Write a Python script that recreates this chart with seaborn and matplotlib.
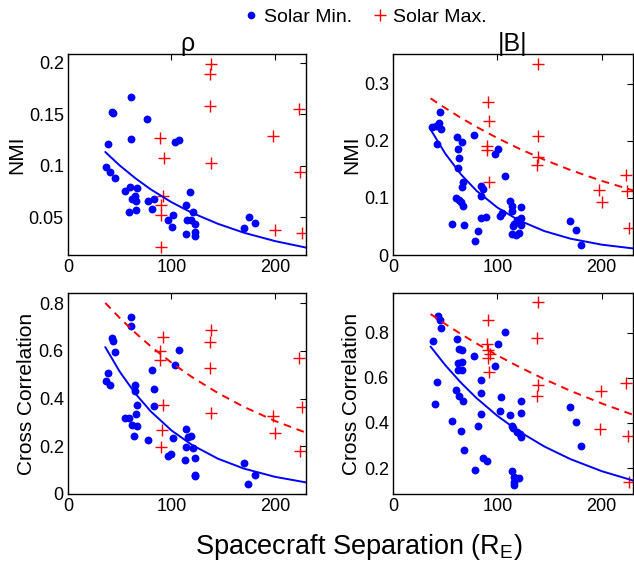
import numpy as np
import matplotlib
matplotlib.use("Agg")
import matplotlib.pyplot as plt
from matplotlib.ticker import FormatStrFormatter
from matplotlib.lines import Line2D
import seaborn as sns

# valori letti dal grafico di riferimento
# --- rho, NMI (in alto a sinistra)
rho_nmi_min_x = [39, 60.9, 42.2, 43.8, 76.7, 60.5, 103.4, 107.2, 37, 40.9, 45.4, 55.4, 60.2, 66.7,
                 64.7, 61.5, 65.7, 58.6, 65.7, 77.6, 83.4, 80.8, 96.9, 101.8, 100.2, 113.7, 117.9,
                 120.5, 115.3, 118.8, 122.7, 113.7, 122.7, 122.7, 170, 174.6, 180.4]
rho_nmi_min_y = [0.121, 0.167, 0.152, 0.1515, 0.145, 0.126, 0.123, 0.125, 0.0985, 0.094, 0.088,
                 0.076, 0.079, 0.078, 0.071, 0.068, 0.066, 0.0555, 0.0574, 0.066, 0.068, 0.058,
                 0.047, 0.052, 0.041, 0.062, 0.075, 0.055, 0.047, 0.047, 0.044, 0.0335, 0.036,
                 0.032, 0.040, 0.0506, 0.045]
rho_nmi_max_x = [137.8, 137.2, 137.2, 88.9, 92.8, 137.8, 222.9, 197.7, 224.2, 91.5, 89.6, 90.2,
                 89.6, 199.7, 226.4]
rho_nmi_max_y = [0.1987, 0.189, 0.1576, 0.1273, 0.108, 0.103, 0.1547, 0.1292, 0.094, 0.071,
                 0.0616, 0.0522, 0.0215, 0.0377, 0.0345]

# --- |B|, NMI (in alto a destra)
b_nmi_min_x = [37.8, 41, 43.9, 44.9, 46.2, 42, 77.2, 61.5, 65.7, 62.2, 62.8, 62.2, 66.7, 65.7,
               59.9, 62.8, 64.7, 67.3, 56.7, 67.9, 84, 86.5, 84.3, 100.3, 97.8, 107.7, 84.3, 89.4,
               81.4, 78.5, 102.6, 104.2, 112.5, 114.4, 114.1, 123, 116, 115.4, 118.6, 123, 123,
               113.8, 118.3, 121.2, 169.9, 175, 180.4]
b_nmi_min_y = [0.224, 0.2265, 0.2306, 0.25, 0.2206, 0.1947, 0.2106, 0.2065, 0.1982, 0.1859,
               0.1706, 0.1524, 0.127, 0.1194, 0.1, 0.097, 0.0924, 0.0859, 0.0541, 0.0524, 0.1206,
               0.1159, 0.1041, 0.1859, 0.1776, 0.1382, 0.0647, 0.0671, 0.0418, 0.0253, 0.0682,
               0.0735, 0.0953, 0.0859, 0.0776, 0.0841, 0.0547, 0.05, 0.0606, 0.0647, 0.0529,
               0.0365, 0.0353, 0.0382, 0.06, 0.0441, 0.0182]
b_nmi_max_x = [138.5, 91.3, 92, 138.5, 90.1, 90.1, 91.7, 138.5, 137.8, 197.4, 200, 223.4, 224.7,
               226.3]
b_nmi_max_y = [0.3347, 0.2671, 0.2353, 0.2088, 0.1912, 0.1841, 0.1282, 0.1724, 0.1576, 0.1135,
               0.0924, 0.1394, 0.1118, 0.0476]

# --- rho, Cross Correlation (in basso a sinistra)
rho_cc_min_x = [60.9, 60.5, 42.2, 43.8, 45.4, 38.3, 37, 40.9, 80.8, 103.4, 107.2, 65.1, 65.1,
                83.4, 66.4, 83.4, 65.7, 55.4, 59, 61.5, 66.7, 63.8, 77.6, 101.8, 113.7, 115.6,
                118.8, 114, 120.5, 96.9, 99.8, 113.4, 122.4, 122.7, 122.7, 169.7, 180.4, 174.2]
rho_cc_min_y = [0.744, 0.705, 0.6535, 0.6437, 0.595, 0.507, 0.476, 0.457, 0.518, 0.539, 0.606,
                0.458, 0.430, 0.440, 0.374, 0.367, 0.337, 0.319, 0.319, 0.291, 0.2865, 0.242,
                0.228, 0.235, 0.274, 0.238, 0.242, 0.196, 0.194, 0.161, 0.168, 0.141, 0.150,
                0.081, 0.074, 0.129, 0.079, 0.040]
rho_cc_max_x = [92.1, 88.9, 88.9, 137.8, 137.2, 137.2, 137.8, 92.1, 90.5, 90.2, 222.9, 226.4,
                197.7, 199.7, 224.2]
rho_cc_max_y = [0.6605, 0.5977, 0.5628, 0.6884, 0.6395, 0.5265, 0.3396, 0.3716, 0.2684, 0.1972,
                0.5698, 0.3647, 0.3256, 0.2558, 0.1819]

# --- |B|, Cross Correlation (in basso a destra)
b_cc_min_x = [43.6, 44.9, 46.2, 38.5, 61.5, 42, 40.1, 62.8, 65.7, 77.2, 100.3, 107.7, 61.9, 65.7,
              62.5, 66.3, 97.8, 84, 59.9, 84.3, 62.8, 67.3, 103.8, 123, 102.2, 84.3, 112.5, 123,
              56.7, 81.4, 114.4, 114.7, 64.7, 118.6, 121.8, 123, 67.9, 86.5, 89.7, 78.5, 114.1,
              116, 117.3, 121.2, 116.3, 115.7, 169.9, 175, 180.4]
b_cc_min_y = [0.872, 0.8545, 0.822, 0.762, 0.772, 0.583, 0.482, 0.726, 0.722, 0.698, 0.748,
              0.803, 0.663, 0.669, 0.633, 0.633, 0.651, 0.589, 0.545, 0.533, 0.518, 0.498, 0.5155,
              0.498, 0.4535, 0.440, 0.436, 0.445, 0.409, 0.386, 0.386, 0.378, 0.364, 0.358,
              0.350, 0.337, 0.280, 0.246, 0.232, 0.190, 0.188, 0.162, 0.157, 0.157, 0.137, 0.125,
              0.471, 0.403, 0.299]
b_cc_max_x = [138.5, 91.3, 137.8, 89.7, 91.3, 92.9, 90.7, 92.3, 138.5, 137.8, 199.4, 223.4,
              198.1, 225, 226.3]
b_cc_max_y = [0.9356, 0.8575, 0.7779, 0.7513, 0.7219, 0.7042, 0.688, 0.626, 0.5671, 0.5184,
              0.5405, 0.5744, 0.3739, 0.343, 0.1366]

# curve di fit
fit_x = [36, 50, 65, 80, 100, 120, 145, 170, 200, 230]
rho_nmi_fit_min = [0.1134, 0.1003, 0.0880, 0.0771, 0.0647, 0.0543, 0.0437, 0.0351, 0.0270, 0.0207]
b_nmi_fit_min = [0.2199, 0.1778, 0.1415, 0.1126, 0.0831, 0.0613, 0.0419, 0.0286, 0.0181, 0.0115]
b_nmi_fit_max = [0.2743, 0.2574, 0.2403, 0.2244, 0.2048, 0.1870, 0.1668, 0.1488, 0.1298, 0.1132]
rho_cc_fit_min = [0.6162, 0.5130, 0.4215, 0.3464, 0.2666, 0.2052, 0.1479, 0.1066, 0.0720, 0.0486]
rho_cc_fit_max = [0.8014, 0.7383, 0.6761, 0.6192, 0.5508, 0.4899, 0.4232, 0.3654, 0.3065, 0.2571]
b_cc_fit_min = [0.7379, 0.6560, 0.5783, 0.5099, 0.4311, 0.3644, 0.2954, 0.2395, 0.1861, 0.1447]
b_cc_fit_max = [0.8817, 0.8380, 0.7936, 0.7516, 0.6989, 0.6499, 0.5935, 0.5420, 0.4861, 0.4359]

sns.set_style("white")
plt.rcParams['font.family'] = ['Liberation Sans', 'DejaVu Sans']
plt.rcParams['mathtext.fontset'] = 'custom'
plt.rcParams['mathtext.rm'] = 'Liberation Sans'
plt.rcParams['mathtext.it'] = 'Liberation Sans'
plt.rcParams['text.color'] = 'black'
plt.rcParams['axes.labelcolor'] = 'black'

BLU = (0, 0, 1)
ROSSO = (1, 0, 0)

fig = plt.figure(figsize=(6.34, 5.68), dpi=100)
w_l, w_r = 238 / 634, 240 / 634
h = 201 / 568
ax_tl = fig.add_axes([68 / 634, 1 - 255 / 568, w_l, h])
ax_tr = fig.add_axes([393 / 634, 1 - 255 / 568, w_r, h])
ax_bl = fig.add_axes([68 / 634, 1 - 494 / 568, w_l, h])
ax_br = fig.add_axes([393 / 634, 1 - 494 / 568, w_r, h])

pannelli = [
    (ax_tl, rho_nmi_min_x, rho_nmi_min_y, rho_nmi_max_x, rho_nmi_max_y, rho_nmi_fit_min, None,
     (0.0135, 0.2084), [0.05, 0.1, 0.15, 0.2], 'NMI'),
    (ax_tr, b_nmi_min_x, b_nmi_min_y, b_nmi_max_x, b_nmi_max_y, b_nmi_fit_min, b_nmi_fit_max,
     (0, 0.352), [0, 0.1, 0.2, 0.3], 'NMI'),
    (ax_bl, rho_cc_min_x, rho_cc_min_y, rho_cc_max_x, rho_cc_max_y, rho_cc_fit_min, rho_cc_fit_max,
     (0, 0.843), [0, 0.2, 0.4, 0.6, 0.8], 'Cross Correlation'),
    (ax_br, b_cc_min_x, b_cc_min_y, b_cc_max_x, b_cc_max_y, b_cc_fit_min, b_cc_fit_max,
     (0.085, 0.975), [0.2, 0.4, 0.6, 0.8], 'Cross Correlation'),
]

for ax, mx, my, Mx, My, fmin, fmax, ylim, yt, ylab in pannelli:
    sns.scatterplot(x=mx, y=my, ax=ax, color=BLU, marker='o', s=32, linewidth=0, legend=False)
    sns.scatterplot(x=Mx, y=My, ax=ax, color=ROSSO, marker='+', s=70, linewidth=1.0, legend=False)
    sns.lineplot(x=fit_x, y=fmin, ax=ax, color=BLU, linewidth=1.4)
    if fmax is not None:
        sns.lineplot(x=fit_x, y=fmax, ax=ax, color=ROSSO, linewidth=1.4, linestyle=(0, (4, 3)))
    ax.set_xlim(0, 230)
    ax.set_ylim(*ylim)
    ax.set_xticks([0, 100, 200])
    ax.set_yticks(yt)
    ax.yaxis.set_major_formatter(FormatStrFormatter('%g'))
    ax.tick_params(direction='in', top=True, right=True, length=4, width=0.8,
                   labelsize=13, colors='black', pad=3)
    for sp in ax.spines.values():
        sp.set_color('black')
        sp.set_linewidth(1.0)
    ax.set_ylabel(ylab, fontsize=15, labelpad=2)
    ax.set_xlabel('')
    if ax.get_legend() is not None:
        ax.get_legend().remove()

ax_tl.set_title('ρ', fontsize=18, pad=2, color='black')
ax_tr.set_title('|B|', fontsize=18, pad=2, color='black')

fig.text(359 / 634, 1 - 547 / 568, 'Spacecraft Separation (R$_E$)', fontsize=19.5,
         ha='center', va='center', color='black')

maniglie = [Line2D([], [], linestyle='none', marker='o', markersize=4.5, color=BLU),
            Line2D([], [], linestyle='none', marker='+', markersize=9, markeredgewidth=1.0,
                   color=ROSSO)]
fig.legend(maniglie, ['Solar Min.', 'Solar Max.'], loc='center',
           bbox_to_anchor=(363 / 634, 1 - 17 / 568), ncol=2, frameon=False, fontsize=14,
           handletextpad=0.1, columnspacing=0.8, handlelength=1.2, labelcolor='black')

fig.savefig('out.png', dpi=100)
